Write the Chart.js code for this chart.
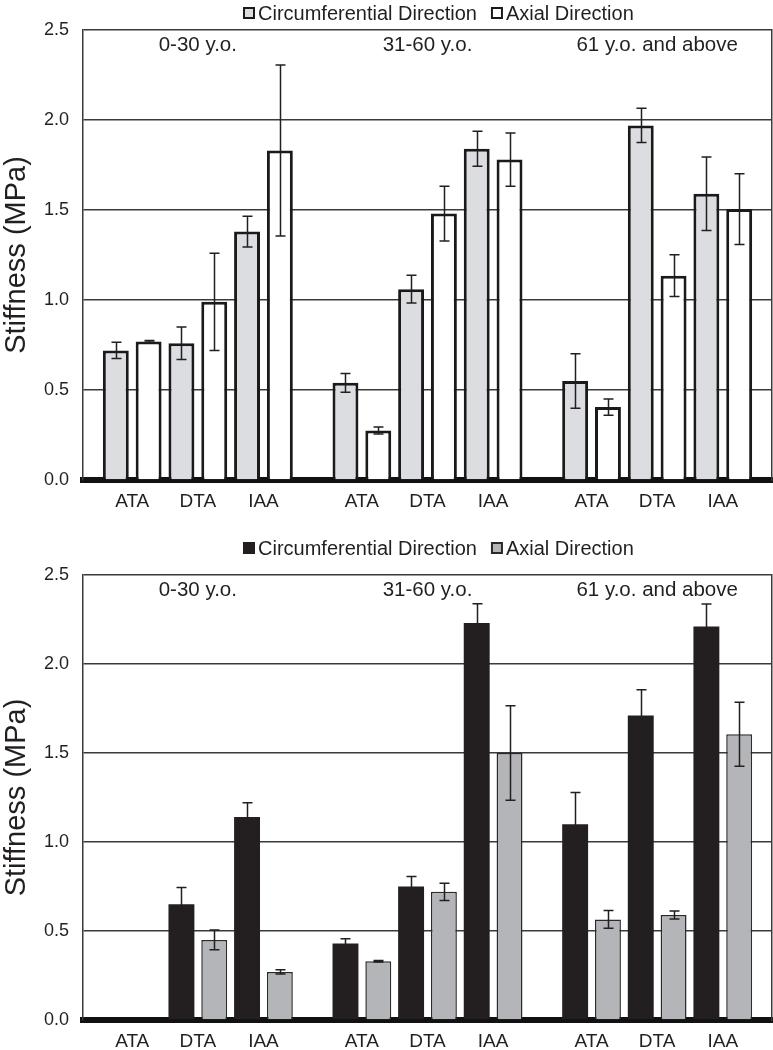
<!DOCTYPE html>
<html><head><meta charset="utf-8">
<script src="https://cdn.jsdelivr.net/npm/chart.js@4.4.1/dist/chart.umd.min.js"></script>
<style>
html,body{margin:0;padding:0;background:#fff;}
#wrap1{position:absolute;left:0;top:0;width:773px;height:520px;}
#wrap2{position:absolute;left:0;top:520px;width:773px;height:530px;}
</style></head><body>
<div id="wrap1"><canvas id="c1"></canvas></div>
<div id="wrap2"><canvas id="c2"></canvas></div>
<script>
// ---- data ----
const ageGroups = ['0-30 y.o.', '31-60 y.o.', '61 y.o. and above'];
const regions = ['ATA', 'DTA', 'IAA'];
const seriesNames = ['Circumferential Direction', 'Axial Direction'];
const yTickValues = [0, 0.5, 1.0, 1.5, 2.0, 2.5];

// top panel (order: group x region)
const topCirc      = [0.72, 0.76, 1.38, 0.54, 1.06, 1.84, 0.55, 1.97, 1.59];
const topCircErr   = [0.045, 0.09, 0.085, 0.052, 0.077, 0.097, 0.152, 0.095, 0.204];
const topAxial     = [0.77, 0.99, 1.83, 0.275, 1.48, 1.78, 0.405, 1.135, 1.505];
const topAxialErr  = [0.005, 0.27, 0.475, 0.02, 0.152, 0.148, 0.045, 0.116, 0.196];

// bottom panel
const botCirc      = [null, 0.65, 1.14, 0.43, 0.75, 2.23, 1.10, 1.71, 2.21];
const botCircErr   = [null, 0.094, 0.08, 0.027, 0.056, 0.108, 0.178, 0.146, 0.127];
const botAxial     = [null, 0.45, 0.27, 0.33, 0.72, 1.50, 0.565, 0.59, 1.605];
const botAxialErr  = [null, 0.056, 0.012, 0.004, 0.048, 0.265, 0.05, 0.023, 0.18];

// ---- layout helpers (slot index along a linear x scale) ----
const SLOTS_PER_GROUP = regions.length * 2 + 1;
function slotOf(i, s){ const g = Math.floor(i / regions.length), r = i % regions.length; return g * SLOTS_PER_GROUP + 2 * r + s; }
const xTickVals = [], xTickLabels = [];
ageGroups.forEach((g, gi) => regions.forEach((r, ri) => { xTickVals.push(gi * SLOTS_PER_GROUP + 2 * ri + 0.5); xTickLabels.push(r); }));
const X_MIN = -1, X_MAX = ageGroups.length * SLOTS_PER_GROUP - 1;

const FONT = "'Liberation Sans', Arial, sans-serif";
const INK = '#231f20';

const errorBars = {
  id: 'errorBars',
  afterDatasetsDraw(chart) {
    const ctx = chart.ctx, ys = chart.scales.y;
    chart.data.datasets.forEach((ds, di) => {
      const meta = chart.getDatasetMeta(di);
      meta.data.forEach((bar, i) => {
        const v = ds.data[i].y, e = ds.errors[i];
        if (v == null || e == null) return;
        const x = Math.round(bar.x) + 0.5;
        const yT = ys.getPixelForValue(v + e), yB = ys.getPixelForValue(v - e);
        ctx.save();
        ctx.strokeStyle = INK; ctx.lineWidth = 1.5;
        ctx.beginPath();
        ctx.moveTo(x, yT); ctx.lineTo(x, yB);
        ctx.moveTo(x - 5, yT); ctx.lineTo(x + 5, yT);
        ctx.moveTo(x - 5, yB); ctx.lineTo(x + 5, yB);
        ctx.stroke();
        ctx.restore();
      });
    });
  }
};

const groupLabels = {
  id: 'groupLabels',
  afterDatasetsDraw(chart) {
    const ctx = chart.ctx, xs = chart.scales.x, ys = chart.scales.y;
    ctx.save();
    ctx.font = '20.5px ' + FONT; ctx.fillStyle = INK;
    ctx.textAlign = 'center'; ctx.textBaseline = 'middle';
    ageGroups.forEach((g, gi) => {
      const cx = xs.getPixelForValue(gi * SLOTS_PER_GROUP + (regions.length * 2 - 1) / 2);
      ctx.fillText(g, cx, ys.getPixelForValue(2.5) + 15);
    });
    ctx.restore();
  }
};

// compact legend (small box, tight gap) drawn from the dataset styles
const compactLegend = {
  id: 'compactLegend',
  afterDraw(chart, args, opts) {
    const ctx = chart.ctx;
    ctx.save();
    ctx.font = '20px ' + FONT; ctx.textBaseline = 'middle'; ctx.textAlign = 'left';
    const box = 12, gap = 3, itemGap = 14;
    const items = chart.data.datasets.map(ds => ({ ds, w: box + gap + ctx.measureText(ds.label).width }));
    const total = items.reduce((s, it) => s + it.w, 0) + itemGap * (items.length - 1);
    let x = Math.round(opts.cx - total / 2);
    const cy = opts.cy;
    items.forEach(it => {
      const ds = it.ds, bw = Math.max(ds.borderWidth ? 2 : 0, 0);
      ctx.fillStyle = ds.backgroundColor;
      ctx.fillRect(x, cy - box / 2, box, box);
      if (bw) { ctx.strokeStyle = ds.borderColor; ctx.lineWidth = bw; ctx.strokeRect(x + bw / 2, cy - box / 2 + bw / 2, box - bw, box - bw); }
      ctx.fillStyle = INK;
      ctx.fillText(ds.label, x + box + gap, cy + 1);
      x += it.w + itemGap;
    });
    ctx.restore();
  }
};

function makeChart(id, circ, circErr, axial, axialErr, st) {
  const mk = (vals, s) => vals.map((v, i) => ({ x: slotOf(i, s), y: v }));
  return new Chart(document.getElementById(id), {
    type: 'bar',
    data: {
      datasets: [
        { label: seriesNames[0], data: mk(circ, 0), errors: circErr, yAxisID: 'y',
          backgroundColor: st.c1, borderColor: st.b1, borderWidth: st.w1, borderSkipped: 'start',
          grouped: false, barPercentage: 0.79, categoryPercentage: 1 },
        { label: seriesNames[1], data: mk(axial, 1), errors: axialErr, yAxisID: 'y',
          backgroundColor: st.c2, borderColor: st.b2, borderWidth: st.w2, borderSkipped: 'start',
          grouped: false, barPercentage: 0.79, categoryPercentage: 1 }
      ]
    },
    options: {
      responsive: true, maintainAspectRatio: false, animation: false,
      devicePixelRatio: 1,
      layout: { padding: { top: st.padTop, right: 1, left: 0, bottom: 0 } },
      plugins: {
        tooltip: { enabled: false },
        legend: { display: false },
        compactLegend: { cx: 438, cy: st.legY }
      },
      scales: {
        x: {
          type: 'linear', min: X_MIN, max: X_MAX, z: 1, offset: false,
          afterBuildTicks: s => { s.ticks = xTickVals.map(v => ({ value: v })); },
          ticks: { callback: (v, i) => xTickLabels[i], autoSkip: false, maxRotation: 0,
                   color: INK, font: { family: FONT, size: 19 }, padding: 10 },
          grid: { display: false, drawTicks: false },
          border: { display: true, color: '#111', width: 6 },
          afterFit: s => { s.height = st.xH; }
        },
        y: {
          min: 0, max: 2.5,
          afterBuildTicks: s => { s.ticks = yTickValues.map(v => ({ value: v })); },
          ticks: { callback: v => v.toFixed(1), color: INK, font: { family: FONT, size: 18 }, padding: 14 },
          grid: { color: '#3a3a3a', lineWidth: 1.5, drawTicks: false },
          border: { display: true, color: '#3a3a3a', width: 1.5 },
          title: { display: true, text: 'Stiffness (MPa)', color: INK, font: { family: FONT, size: 29 }, padding: 0 },
          afterFit: s => { s.width = 83; }
        },
        yR: {
          position: 'right', min: 0, max: 2.5,
          ticks: { display: false }, grid: { display: false, drawTicks: false },
          border: { display: true, color: '#3a3a3a', width: 1.5 },
          afterFit: s => { s.width = 0; }
        }
      }
    },
    plugins: [errorBars, groupLabels, compactLegend]
  });
}

makeChart('c1', topCirc, topCircErr, topAxial, topAxialErr,
  { c1: '#dcdde0', b1: '#1a1a1a', w1: 3, c2: '#ffffff', b2: '#1a1a1a', w2: 3, padTop: 30, legY: 13, xH: 40 });
makeChart('c2', botCirc, botCircErr, botAxial, botAxialErr,
  { c1: '#231f20', b1: '#231f20', w1: 0, c2: '#b4b5b8', b2: '#2a2a2a', w2: 1.5, padTop: 55, legY: 28, xH: 30 });
</script>
</body></html>
